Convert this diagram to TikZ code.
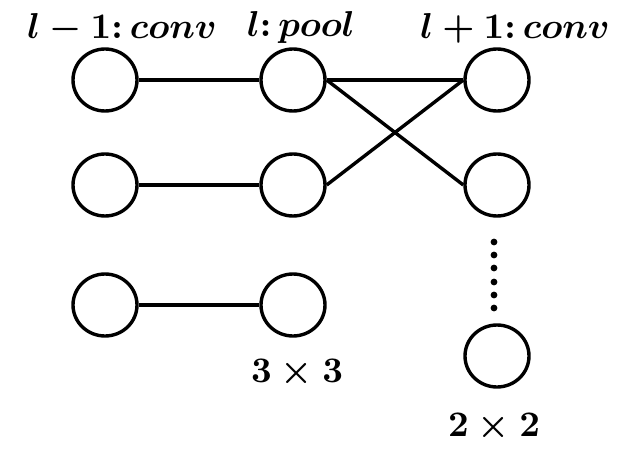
\documentclass[tikz,border=0pt]{standalone}
\usepackage{amsmath}
\usetikzlibrary{shapes.geometric}
\begin{document}
\begin{tikzpicture}[x=1pt,y=-1pt,
  unit/.style={draw,line width=3.4pt,ellipse,minimum width=64pt,minimum height=62pt,inner sep=0pt},
  conn/.style={line width=3.4pt},
  lab/.style={font=\boldmath,scale=3.6,transform shape,inner sep=0pt}]
\useasboundingbox (0,0) rectangle (621,457);
\node[unit] (a1) at (105,80) {};
\node[unit] (a2) at (105,185) {};
\node[unit] (a3) at (105,305) {};
\node[unit] (b1) at (293,80) {};
\node[unit] (b2) at (293,185) {};
\node[unit] (b3) at (293,305) {};
\node[unit] (c1) at (497,80) {};
\node[unit] (c2) at (497,185) {};
\node[unit] (c3) at (497,356) {};
\node[lab] (t1) at (122,28) {$l-1{:}\,conv$};
\node[lab] (t2) at (301,28) {$l{:}\,pool$};
\node[lab] (t3) at (515,28) {$l+1{:}\,conv$};
\node[lab] (s1) at (297,373) {$3\times3$};
\node[lab] (s2) at (494,427) {$2\times2$};
\draw[conn] (a1) -- (b1);
\draw[conn] (a2) -- (b2);
\draw[conn] (a3) -- (b3);
\draw[conn] (b1.east) -- (c1.west);
\draw[conn] (b1.east) -- (c2.west);
\draw[conn] (b2.east) -- (c1.west);
\foreach \yy in {242,255,268,282,295,308} \fill (494,\yy) circle (3.4pt);
\end{tikzpicture}
\end{document}
